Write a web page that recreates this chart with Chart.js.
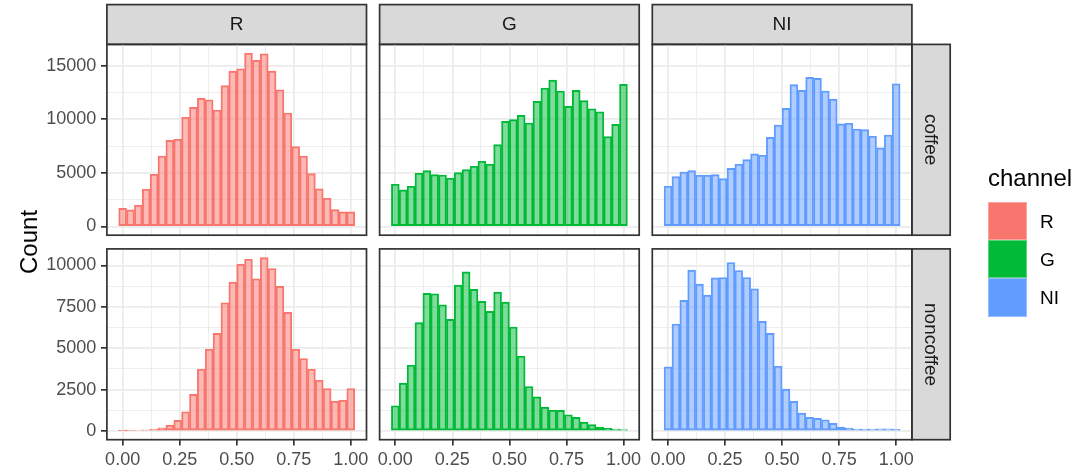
<!DOCTYPE html>
<html>
<head>
<meta charset="utf-8">
<script src="https://cdn.jsdelivr.net/npm/chart.js@4.4.1/dist/chart.umd.min.js"></script>
<style>
  html, body { margin: 0; padding: 0; background: #ffffff; }
  #wrap { position: relative; width: 1080px; height: 473px; overflow: hidden;
          font-family: "Liberation Sans", Arial, sans-serif; }
  #wrap canvas { position: absolute; left: 0; top: 0; }
  .lbl { position: absolute; white-space: nowrap; line-height: 1; }
  .stripText { position: absolute; display: flex; align-items: center; justify-content: center;
               font-size: 19px; color: #1A1A1A; }
  .stripText span.v { writing-mode: vertical-rl; }
  .key { position: absolute; }
</style>
</head>
<body>
<div id="wrap">
  <canvas id="p00" width="1080" height="473"></canvas>
  <canvas id="p01" width="1080" height="473"></canvas>
  <canvas id="p02" width="1080" height="473"></canvas>
  <canvas id="p10" width="1080" height="473"></canvas>
  <canvas id="p11" width="1080" height="473"></canvas>
  <canvas id="p12" width="1080" height="473"></canvas>
</div>
<script>
// ---- facets ----
const channels = ['R', 'G', 'NI'];
const groups = ['coffee', 'noncoffee'];
const channelColors = ['#F8766D', '#00BA38', '#619CFF'];
const channelFills = ['rgba(248,118,109,0.5)', 'rgba(0,186,56,0.5)', 'rgba(97,156,255,0.5)'];

// ---- histogram counts, 30 bins over [0, 1] ----
const coffeeR = [1700, 1550, 2000, 3480, 4880, 6580, 8040, 8140, 10190, 11120, 11960, 11830, 10870, 13140, 14500,
                 14720, 16180, 15500, 16120, 14500, 12760, 10590, 7450, 6580, 4940, 3510, 2640, 1580, 1370, 1370];
const coffeeG = [3940, 3420, 3760, 4970, 5220, 4840, 4810, 4500, 5030, 5310, 5620, 6090, 5810, 7640, 9810,
                 9970, 10370, 9660, 11680, 12920, 13660, 12640, 11210, 12700, 11740, 10990, 10710, 8390, 9530, 13260];
const coffeeNI = [3760, 4660, 5090, 5220, 4780, 4780, 4840, 4470, 5430, 5810, 6240, 6770, 6650, 8320, 9470,
                  11020, 13230, 12700, 13910, 13820, 12640, 11890, 9570, 9630, 9100, 9040, 8420, 7330, 8540, 13320];
const noncoffeeR = [20, 40, 50, 70, 120, 200, 360, 640, 1165, 2210, 3735, 4940, 5900, 7750, 9000,
                    10080, 10380, 9200, 10480, 9820, 8735, 7170, 4940, 4380, 3735, 3070, 2570, 1807, 1870, 2570];
const noncoffeeG = [1526, 2890, 3976, 6546, 8313, 8293, 7630, 6747, 8815, 9618, 8554, 7831, 7229, 8393, 7791,
                    6285, 4518, 2691, 2068, 1446, 1265, 1245, 984, 823, 542, 382, 241, 160, 120, 80];
const noncoffeeNI = [3876, 6466, 7892, 9719, 8876, 8213, 9257, 9277, 10181, 9699, 9277, 8594, 6627, 5904, 3916,
                     2530, 1787, 1084, 823, 763, 683, 462, 241, 181, 120, 120, 120, 140, 140, 100];

// ---- axis breaks and tick labels ----
const xBreaks = [0, 0.25, 0.5, 0.75, 1];
const xTickLabels = ['0.00', '0.25', '0.50', '0.75', '1.00'];
const coffeeBreaks = [0, 5000, 10000, 15000];
const coffeeTickLabels = ['0', '5000', '10000', '15000'];
const noncoffeeBreaks = [0, 2500, 5000, 7500, 10000];
const noncoffeeTickLabels = ['0', '2500', '5000', '7500', '10000'];

const panelData = [[coffeeR, coffeeG, coffeeNI], [noncoffeeR, noncoffeeG, noncoffeeNI]];
const rowBreaks = [coffeeBreaks, noncoffeeBreaks];
const rowTickLabels = [coffeeTickLabels, noncoffeeTickLabels];

// ---- layout (px) ----
const W = 1080, H = 473;
const PANEL_LEFTS = [106.9, 379.6, 652.3];
const PANEL_W = 259.6;
const PANEL_TOPS = [44.4, 248.9];
const PANEL_H = 190.8;
const STRIP_TOP = 4.6;
const STRIP_W = 38.3;
const FONT = '"Liberation Sans", Arial, sans-serif';
const TICK_SIZE = 18;
const BORDER = '#333333';

// bins: 30 bins centred on 0 .. 1
const NBINS = coffeeR.length;
const BIN_W = 1 / (NBINS - 1);
const xLo = -BIN_W / 2, xHi = 1 + BIN_W / 2;
const xExp = 0.05 * (xHi - xLo);

function withMinor(breaks, lo, hi) {
  const all = breaks.slice();
  for (let i = 0; i < breaks.length - 1; i++) all.push((breaks[i] + breaks[i + 1]) / 2);
  const step = breaks[1] - breaks[0];
  all.push(breaks[0] - step / 2, breaks[breaks.length - 1] + step / 2);
  return all.filter(v => v >= lo && v <= hi).sort((a, b) => a - b);
}

// panel frame + facet strips
const framePlugin = {
  id: 'frame',
  beforeDraw(chart, args, opts) {
    const { ctx, chartArea: a } = chart;
    ctx.save();
    ctx.fillStyle = '#D9D9D9';
    ctx.strokeStyle = BORDER;
    ctx.lineWidth = 1.7;
    if (opts.topStrip) {
      ctx.fillRect(a.left, STRIP_TOP, a.right - a.left, a.top - STRIP_TOP);
      ctx.strokeRect(a.left, STRIP_TOP, a.right - a.left, a.top - STRIP_TOP);
    }
    if (opts.rightStrip) {
      ctx.fillRect(a.right, a.top, STRIP_W, a.bottom - a.top);
      ctx.strokeRect(a.right, a.top, STRIP_W, a.bottom - a.top);
    }
    ctx.restore();
  },
  afterDraw(chart) {
    const { ctx, chartArea: a } = chart;
    ctx.save();
    ctx.strokeStyle = BORDER;
    ctx.lineWidth = 1.7;
    ctx.strokeRect(a.left, a.top, a.right - a.left, a.bottom - a.top);
    ctx.restore();
  }
};

function makePanel(row, col) {
  const values = panelData[row][col];
  const rowMax = Math.max(...panelData[row].map(v => Math.max(...v)));
  const yMin = -0.05 * rowMax, yMax = 1.05 * rowMax;
  const yMajor = rowBreaks[row];
  const yLabels = rowTickLabels[row];
  const yAll = withMinor(yMajor, yMin, yMax);
  const xMin = xLo - xExp, xMax = xHi + xExp;
  const xAll = withMinor(xBreaks, xMin, xMax);

  const left = PANEL_LEFTS[col];
  const top = PANEL_TOPS[row];
  const right = left + PANEL_W;
  const bottom = top + PANEL_H;
  const showY = col === 0;
  const showX = row === 1;

  const gridOpts = (major, showTicks) => ({
    color: '#EBEBEB',
    lineWidth: c => (c.tick && major.includes(c.tick.value)) ? 1.7 : 0.85,
    drawTicks: showTicks,
    tickLength: 5.9,
    tickWidth: 1.7,
    tickColor: c => (c.tick && major.includes(c.tick.value)) ? BORDER : 'rgba(0,0,0,0)',
    offset: false
  });

  return new Chart(document.getElementById('p' + row + col), {
    type: 'bar',
    data: {
      datasets: [{
        label: channels[col],
        data: values.map((v, i) => ({ x: i * BIN_W, y: v })),
        backgroundColor: channelFills[col],
        borderColor: channelColors[col],
        borderWidth: 1.25,
        borderSkipped: false,
        barPercentage: 1,
        categoryPercentage: 1
      }]
    },
    options: {
      responsive: false,
      animation: false,
      devicePixelRatio: 1,
      events: [],
      layout: { autoPadding: false, padding: { left: 0, top: top, right: W - right, bottom: 0 } },
      plugins: {
        legend: { display: false },
        tooltip: { enabled: false },
        frame: { topStrip: row === 0, rightStrip: col === 2 }
      },
      scales: {
        x: {
          type: 'linear',
          offset: false,
          min: xMin, max: xMax,
          afterBuildTicks: s => { s.ticks = xAll.map(v => ({ value: v })); },
          afterFit: s => { s.height = H - bottom; },
          grid: gridOpts(xBreaks, showX),
          border: { display: false },
          ticks: {
            display: showX,
            autoSkip: false, maxRotation: 0, minRotation: 0,
            padding: 4,
            color: '#4D4D4D',
            font: { family: FONT, size: TICK_SIZE },
            callback: v => { const i = xBreaks.indexOf(v); return i >= 0 ? xTickLabels[i] : ''; }
          }
        },
        y: {
          type: 'linear',
          min: yMin, max: yMax,
          afterBuildTicks: s => { s.ticks = yAll.map(v => ({ value: v })); },
          afterFit: s => { s.width = left; },
          grid: gridOpts(yMajor, showY),
          border: { display: false },
          ticks: {
            display: showY,
            autoSkip: false,
            padding: 4.7,
            color: '#4D4D4D',
            font: { family: FONT, size: TICK_SIZE },
            callback: v => { const i = yMajor.indexOf(v); return i >= 0 ? yLabels[i] : ''; }
          }
        }
      }
    },
    plugins: [framePlugin]
  });
}

for (let r = 0; r < groups.length; r++)
  for (let c = 0; c < channels.length; c++) makePanel(r, c);

// ---- text: strip labels, axis title, legend ----
const wrap = document.getElementById('wrap');
function addDiv(cls, text, style) {
  const d = document.createElement('div');
  d.className = cls;
  if (text !== null) d.textContent = text;
  Object.assign(d.style, style);
  wrap.appendChild(d);
  return d;
}

channels.forEach((name, c) => {
  addDiv('stripText', name, {
    left: PANEL_LEFTS[c] + 'px', top: STRIP_TOP + 'px',
    width: PANEL_W + 'px', height: (PANEL_TOPS[0] - STRIP_TOP) + 'px'
  });
});
groups.forEach((name, r) => {
  const d = addDiv('stripText', null, {
    left: (PANEL_LEFTS[2] + PANEL_W) + 'px', top: PANEL_TOPS[r] + 'px',
    width: STRIP_W + 'px', height: PANEL_H + 'px'
  });
  const s = document.createElement('span');
  s.className = 'v';
  s.textContent = name;
  d.appendChild(s);
});

addDiv('lbl', 'Count', {
  left: '28.5px', top: ((PANEL_TOPS[0] + PANEL_TOPS[1] + PANEL_H) / 2) + 'px',
  fontSize: '24px', color: '#000000',
  transform: 'translate(-50%, -50%) rotate(-90deg)'
});

addDiv('lbl', 'channel', { left: '988px', top: '166px', fontSize: '24px', color: '#000000' });
const KEY_X = 988.3, KEY_TOP = 201.7, KEY_S = 38.3;
channels.forEach((name, i) => {
  addDiv('key', null, {
    left: KEY_X + 'px', top: (KEY_TOP + i * KEY_S) + 'px',
    width: KEY_S + 'px', height: KEY_S + 'px',
    background: channelColors[i],
    boxShadow: 'inset 0 0 0 1px rgba(255,255,255,0.35)'
  });
  addDiv('lbl', name, {
    left: '1040px', top: (KEY_TOP + i * KEY_S + KEY_S / 2) + 'px',
    transform: 'translateY(-50%)', fontSize: '19px', color: '#000000'
  });
});
</script>
</body>
</html>
